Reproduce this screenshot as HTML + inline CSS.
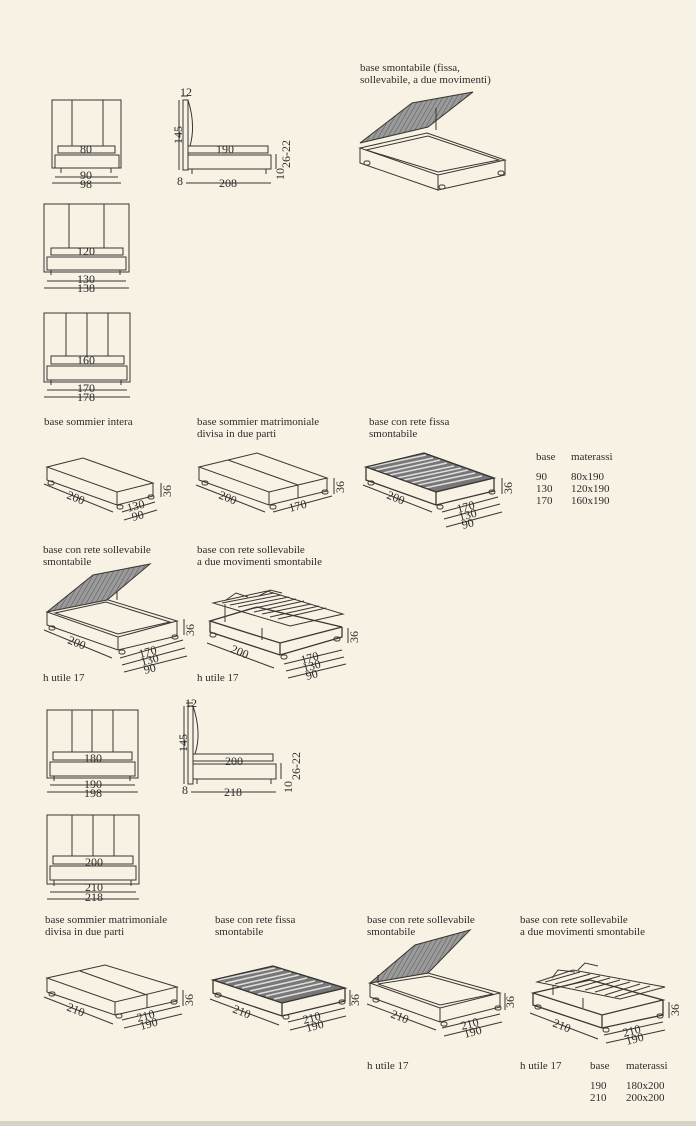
<!DOCTYPE html>
<html><head><meta charset="utf-8"><style>
html,body{margin:0;padding:0;background:#f7f2e4;}
svg{display:block}
text{font-family:"Liberation Serif",serif;fill:#2e2a2a;font-size:11px}
.d{font-size:12px}
</style></head><body>
<svg width="696" height="1126" viewBox="0 0 696 1126" xmlns="http://www.w3.org/2000/svg">
<defs>
<pattern id="hat" width="4" height="4" patternUnits="userSpaceOnUse" patternTransform="rotate(30)">
<rect width="4" height="4" fill="#9a9a9a"/><line x1="0" y1="0" x2="0" y2="4" stroke="#555" stroke-width="1"/>
</pattern>
</defs>
<g fill="none" stroke="#3a3532" stroke-width="1">
<!-- front view 1 -->
<rect x="52" y="100" width="69" height="68"/><line x1="72" y1="100" x2="72" y2="146"/><line x1="103" y1="100" x2="103" y2="146"/>
<rect x="58" y="146" width="57" height="7"/><rect x="55" y="155" width="64" height="13"/>
<line x1="61" y1="168" x2="61" y2="173"/><line x1="111" y1="168" x2="111" y2="173"/>
<line x1="55" y1="177" x2="118" y2="177"/><line x1="52" y1="183" x2="121" y2="183"/>
<!-- side view 1 -->
<rect x="183" y="100" width="5" height="70"/><path d="M188,100 Q196,125 190,146"/>
<line x1="179" y1="100" x2="179" y2="170"/><line x1="181" y1="96" x2="188" y2="96"/>
<rect x="188" y="146" width="80" height="7"/><rect x="188" y="155" width="83" height="14"/>
<line x1="192" y1="169" x2="192" y2="174"/><line x1="266" y1="169" x2="266" y2="174"/>
<line x1="186" y1="183" x2="271" y2="183"/><line x1="276" y1="154" x2="276" y2="169"/>
<!-- front view 2 -->
<rect x="44" y="204" width="85" height="68"/><line x1="69" y1="204" x2="69" y2="248"/><line x1="104" y1="204" x2="104" y2="248"/>
<rect x="51" y="248" width="72" height="7"/><rect x="47" y="257" width="79" height="13"/>
<line x1="51" y1="270" x2="51" y2="275"/><line x1="120" y1="270" x2="120" y2="275"/>
<line x1="47" y1="281" x2="126" y2="281"/><line x1="44" y1="288" x2="129" y2="288"/>
<!-- front view 3 -->
<rect x="44" y="313" width="86" height="69"/><line x1="66" y1="313" x2="66" y2="356"/><line x1="87" y1="313" x2="87" y2="356"/><line x1="108" y1="313" x2="108" y2="356"/>
<rect x="51" y="356" width="73" height="8"/><rect x="47" y="366" width="80" height="14"/>
<line x1="51" y1="380" x2="51" y2="385"/><line x1="121" y1="380" x2="121" y2="385"/>
<line x1="47" y1="390" x2="127" y2="390"/><line x1="44" y1="397" x2="130" y2="397"/>
<!-- top right iso -->
<path d="M360,148 L427,133 L505,160 L438,175 Z"/><path d="M360,148 L360,163 L438,190 L438,175 M438,190 L505,175 L505,160"/>
<path d="M366,150 L428,136 L499,160 L438,172 Z"/>
<path d="M360,143 L412,103 L473,92 L428,127 Z" fill="url(#hat)"/><line x1="436" y1="108" x2="436" y2="130"/>
<rect x="364" y="161" width="6" height="4" rx="2"/><rect x="439" y="185" width="6" height="4" rx="2"/><rect x="498" y="171" width="6" height="4" rx="2"/>
<!-- box1 -->
<path d="M47,467 L83,458 L153,483 L117,492 Z M47,467 L47,480 L117,505 L153,496 L153,483 M117,492 L117,505"/>
<rect x="48" y="481" width="6" height="4" rx="2"/><rect x="117" y="505" width="6" height="4" rx="2"/><rect x="148" y="495" width="6" height="4" rx="2"/>
<line x1="44" y1="484" x2="113" y2="512"/><line x1="122" y1="512" x2="155" y2="502"/><line x1="124" y1="520" x2="157" y2="510"/><line x1="161" y1="483" x2="161" y2="497"/>
<!-- box2 -->
<path d="M199,467 L257,453 L327,478 L269,492 Z M199,467 L199,480 L269,505 L327,491 L327,478 M269,492 L269,505 M228,460 L298,485 L298,498"/>
<rect x="202" y="481" width="6" height="4" rx="2"/><rect x="270" y="505" width="6" height="4" rx="2"/><rect x="322" y="490" width="6" height="4" rx="2"/>
<line x1="196" y1="485" x2="265" y2="512"/><line x1="273" y1="512" x2="332" y2="496"/><line x1="334" y1="478" x2="334" y2="494"/>
<!-- box3 rete fissa -->
<path d="M366,467 L424,453 L494,478 L436,492 Z" fill="#777"/>
<path d="M369,467 L426,455 M376,470 L433,458 M383,473 L440,460 M390,475 L447,463 M397,478 L454,466 M404,480 L461,468 M411,483 L468,470 M418,485 L475,473 M425,488 L482,476" stroke="#ddd" stroke-width="1.6"/>
<path d="M366,467 L424,453 L494,478 L436,492 Z M366,467 L366,480 L436,505 L494,491 L494,478 M436,492 L436,505" stroke-width="1.3"/>
<rect x="368" y="481" width="6" height="4" rx="2"/><rect x="437" y="505" width="6" height="4" rx="2"/><rect x="489" y="490" width="6" height="4" rx="2"/>
<line x1="363" y1="485" x2="432" y2="512"/><line x1="442" y1="512" x2="498" y2="497"/><line x1="444" y1="519" x2="500" y2="504"/><line x1="446" y1="527" x2="502" y2="512"/><line x1="502" y1="478" x2="502" y2="494"/>
<!-- box4 sollevabile -->
<path d="M47,612 L105,599 L177,621 L118,637 Z M47,612 L47,625 L118,650 L177,636 L177,621 M118,637 L118,650"/>
<path d="M55,613 L106,602 L170,622 L118,634 Z"/>
<path d="M47,612 L93,575 L150,564 L107,600 Z" fill="url(#hat)"/><line x1="117" y1="592" x2="117" y2="600"/>
<rect x="49" y="626" width="6" height="4" rx="2"/><rect x="119" y="650" width="6" height="4" rx="2"/><rect x="172" y="635" width="6" height="4" rx="2"/>
<line x1="44" y1="630" x2="112" y2="658"/><line x1="120" y1="658" x2="183" y2="640"/><line x1="122" y1="665" x2="185" y2="648"/><line x1="124" y1="672" x2="187" y2="656"/><line x1="184" y1="619" x2="184" y2="635"/>
<!-- box5 due movimenti -->
<path d="M210,621 L257,607 L342,627 L280,643 Z M210,621 L210,632 L280,655 L342,637 L342,627 M280,643 L280,655" stroke-width="1.3"/>
<path d="M213,603 L267,591 L343,614 L290,626 Z"/>
<path d="M222,603 L274,593 M230,605 L281,595 M238,607 L289,597 M246,610 L296,599 M254,612 L304,601 M262,614 L311,604 M270,617 L319,606 M278,619 L326,608"/>
<path d="M226,600 L236,593 L248,597 M259,596 L270,590 L282,593"/>
<line x1="225" y1="604" x2="225" y2="622"/><line x1="262" y1="628" x2="262" y2="640"/>
<rect x="210" y="633" width="6" height="4" rx="2"/><rect x="281" y="655" width="6" height="4" rx="2"/><rect x="334" y="637" width="6" height="4" rx="2"/>
<line x1="207" y1="643" x2="274" y2="668"/><line x1="284" y1="664" x2="342" y2="650"/><line x1="286" y1="671" x2="344" y2="657"/><line x1="288" y1="678" x2="346" y2="664"/><line x1="348" y1="628" x2="348" y2="643"/>
<!-- front view 180 -->
<rect x="47" y="710" width="91" height="68"/><line x1="72" y1="710" x2="72" y2="752"/><line x1="92" y1="710" x2="92" y2="752"/><line x1="113" y1="710" x2="113" y2="752"/>
<rect x="53" y="752" width="79" height="8"/><rect x="50" y="762" width="85" height="14"/>
<line x1="54" y1="776" x2="54" y2="781"/><line x1="130" y1="776" x2="130" y2="781"/>
<line x1="50" y1="785" x2="135" y2="785"/><line x1="47" y1="792" x2="138" y2="792"/>
<!-- side view 2 -->
<rect x="188" y="706" width="5" height="78"/><path d="M193,706 Q202,733 195,754"/>
<line x1="184" y1="706" x2="184" y2="784"/><line x1="186" y1="703" x2="193" y2="703"/>
<rect x="193" y="754" width="80" height="7"/><rect x="193" y="764" width="83" height="15"/>
<line x1="197" y1="779" x2="197" y2="784"/><line x1="271" y1="779" x2="271" y2="784"/>
<line x1="191" y1="792" x2="276" y2="792"/><line x1="281" y1="763" x2="281" y2="779"/>
<!-- front view 200 -->
<rect x="47" y="815" width="92" height="69"/><line x1="72" y1="815" x2="72" y2="856"/><line x1="93" y1="815" x2="93" y2="856"/><line x1="114" y1="815" x2="114" y2="856"/>
<rect x="53" y="856" width="80" height="8"/><rect x="50" y="866" width="86" height="14"/>
<line x1="54" y1="880" x2="54" y2="886"/><line x1="131" y1="880" x2="131" y2="886"/>
<line x1="50" y1="892" x2="136" y2="892"/><line x1="47" y1="899" x2="139" y2="899"/>
<!-- B6 -->
<path d="M47,978 L105,965 L177,987 L115,1002 Z M47,978 L47,992 L115,1015 L177,1001 L177,987 M115,1002 L115,1015 M80,971 L147,995 L147,1008"/>
<rect x="49" y="992" width="6" height="4" rx="2"/><rect x="116" y="1014" width="6" height="4" rx="2"/><rect x="171" y="1000" width="6" height="4" rx="2"/>
<line x1="44" y1="997" x2="113" y2="1024"/><line x1="122" y1="1020" x2="180" y2="1006"/><line x1="124" y1="1028" x2="182" y2="1014"/><line x1="183" y1="990" x2="183" y2="1006"/>
<!-- B7 -->
<path d="M213,980 L273,966 L345,988 L282,1003 Z" fill="#777"/>
<path d="M218,980 L275,968 M226,983 L283,970 M234,986 L291,973 M242,988 L299,975 M250,991 L307,978 M258,994 L315,981 M266,996 L323,983 M274,999 L331,986" stroke="#ddd" stroke-width="1.6"/>
<path d="M213,980 L273,966 L345,988 L282,1003 Z M213,980 L213,993 L282,1016 L345,1001 L345,988 M282,1003 L282,1016" stroke-width="1.3"/>
<rect x="215" y="993" width="6" height="4" rx="2"/><rect x="283" y="1015" width="6" height="4" rx="2"/><rect x="339" y="1000" width="6" height="4" rx="2"/>
<line x1="210" y1="999" x2="279" y2="1025"/><line x1="288" y1="1022" x2="345" y2="1008"/><line x1="290" y1="1030" x2="346" y2="1016"/><line x1="350" y1="990" x2="350" y2="1006"/>
<!-- B8 -->
<path d="M370,983 L428,973 L500,993 L440,1008 Z M370,983 L370,997 L440,1022 L500,1007 L500,993 M440,1008 L440,1022"/>
<path d="M378,984 L429,976 L493,994 L440,1005 Z"/>
<path d="M370,983 L415,945 L470,930 L428,973 Z" fill="url(#hat)"/><line x1="378" y1="975" x2="378" y2="983"/>
<rect x="373" y="998" width="6" height="4" rx="2"/><rect x="441" y="1022" width="6" height="4" rx="2"/><rect x="495" y="1006" width="6" height="4" rx="2"/>
<line x1="367" y1="1004" x2="436" y2="1030"/><line x1="442" y1="1028" x2="500" y2="1014"/><line x1="444" y1="1036" x2="502" y2="1022"/><line x1="505" y1="993" x2="505" y2="1010"/>
<!-- B9 -->
<path d="M533,993 L590,980 L663,1000 L602,1015 Z M533,993 L533,1005 L602,1028 L663,1015 L663,1000 M602,1015 L602,1028" stroke-width="1.3"/>
<path d="M537,982 L573,970 L665,987 L620,999 Z"/>
<path d="M545,982 L580,972 M555,984 L590,974 M565,986 L600,976 M575,988 L610,978 M585,990 L620,980 M595,992 L630,982 M605,995 L640,984 M615,997 L650,986"/>
<path d="M552,978 L558,970 L575,972 M578,970 L585,963 L598,966"/>
<line x1="553" y1="985" x2="553" y2="995"/><line x1="583" y1="998" x2="583" y2="1008"/>
<rect x="535" y="1005" width="6" height="4" rx="2"/><rect x="603" y="1028" width="6" height="4" rx="2"/><rect x="657" y="1014" width="6" height="4" rx="2"/>
<line x1="530" y1="1013" x2="598" y2="1039"/><line x1="604" y1="1035" x2="663" y2="1022"/><line x1="606" y1="1043" x2="665" y2="1030"/><line x1="669" y1="1002" x2="669" y2="1018"/>
</g>
<!-- text -->
<text x="360" y="71">base smontabile (fissa,</text>
<text x="360" y="83">sollevabile, a due movimenti)</text>
<text class="d" x="80" y="153">80</text><text class="d" x="80" y="179">90</text><text class="d" x="80" y="188">98</text>
<text class="d" x="180" y="96">12</text><text class="d" transform="translate(182,144) rotate(-90)">145</text>
<text class="d" x="216" y="153">190</text><text class="d" x="177" y="185">8</text><text class="d" x="219" y="187">208</text>
<text class="d" transform="translate(290,168) rotate(-90)">26-22</text><text class="d" transform="translate(284,180) rotate(-90)">10</text>
<text class="d" x="77" y="255">120</text><text class="d" x="77" y="283">130</text><text class="d" x="77" y="292">138</text>
<text class="d" x="77" y="364">160</text><text class="d" x="77" y="392">170</text><text class="d" x="77" y="401">178</text>
<text x="44" y="425">base sommier intera</text>
<text x="197" y="425">base sommier matrimoniale</text><text x="197" y="437">divisa in due parti</text>
<text x="369" y="425">base con rete fissa</text><text x="369" y="437">smontabile</text>
<text x="536" y="460">base</text><text x="571" y="460">materassi</text>
<text x="536" y="480">90</text><text x="571" y="480">80x190</text>
<text x="536" y="492">130</text><text x="571" y="492">120x190</text>
<text x="536" y="504">170</text><text x="571" y="504">160x190</text>
<text class="d" transform="translate(66,498) rotate(22)">200</text>
<text class="d" transform="translate(128,512) rotate(-15)">130</text><text class="d" transform="translate(133,521) rotate(-15)">90</text>
<text class="d" transform="translate(171,497) rotate(-90)">36</text>
<text class="d" transform="translate(218,498) rotate(22)">200</text><text class="d" transform="translate(290,512) rotate(-15)">170</text>
<text class="d" transform="translate(344,493) rotate(-90)">36</text>
<text class="d" transform="translate(386,498) rotate(22)">200</text>
<text class="d" transform="translate(458,513) rotate(-15)">170</text><text class="d" transform="translate(460,521) rotate(-15)">130</text><text class="d" transform="translate(463,529) rotate(-15)">90</text>
<text class="d" transform="translate(512,494) rotate(-90)">36</text>
<text x="43" y="553">base con rete sollevabile</text><text x="43" y="565">smontabile</text>
<text x="197" y="553">base con rete sollevabile</text><text x="197" y="565">a due movimenti smontabile</text>
<text class="d" transform="translate(67,643) rotate(22)">200</text>
<text class="d" transform="translate(140,658) rotate(-15)">170</text><text class="d" transform="translate(142,666) rotate(-15)">130</text><text class="d" transform="translate(145,674) rotate(-15)">90</text>
<text class="d" transform="translate(194,636) rotate(-90)">36</text>
<text class="d" transform="translate(230,652) rotate(22)">200</text>
<text class="d" transform="translate(302,664) rotate(-15)">170</text><text class="d" transform="translate(304,672) rotate(-15)">130</text><text class="d" transform="translate(307,680) rotate(-15)">90</text>
<text class="d" transform="translate(358,643) rotate(-90)">36</text>
<text x="43" y="681">h utile 17</text><text x="197" y="681">h utile 17</text>
<text class="d" x="84" y="762">180</text><text class="d" x="84" y="788">190</text><text class="d" x="84" y="797">198</text>
<text class="d" x="185" y="707">12</text><text class="d" transform="translate(187,752) rotate(-90)">145</text>
<text class="d" x="225" y="765">200</text><text class="d" x="182" y="794">8</text><text class="d" x="224" y="796">218</text>
<text class="d" transform="translate(300,780) rotate(-90)">26-22</text><text class="d" transform="translate(292,793) rotate(-90)">10</text>
<text class="d" x="85" y="866">200</text><text class="d" x="85" y="891">210</text><text class="d" x="85" y="901">218</text>
<text x="45" y="923">base sommier matrimoniale</text><text x="45" y="935">divisa in due parti</text>
<text x="215" y="923">base con rete fissa</text><text x="215" y="935">smontabile</text>
<text x="367" y="923">base con rete sollevabile</text><text x="367" y="935">smontabile</text>
<text x="520" y="923">base con rete sollevabile</text><text x="520" y="935">a due movimenti smontabile</text>
<text class="d" transform="translate(66,1010) rotate(22)">210</text>
<text class="d" transform="translate(138,1022) rotate(-15)">210</text><text class="d" transform="translate(141,1030) rotate(-15)">190</text>
<text class="d" transform="translate(193,1006) rotate(-90)">36</text>
<text class="d" transform="translate(232,1012) rotate(22)">210</text>
<text class="d" transform="translate(304,1024) rotate(-15)">210</text><text class="d" transform="translate(307,1032) rotate(-15)">190</text>
<text class="d" transform="translate(359,1006) rotate(-90)">36</text>
<text class="d" transform="translate(390,1017) rotate(22)">210</text>
<text class="d" transform="translate(462,1030) rotate(-15)">210</text><text class="d" transform="translate(465,1038) rotate(-15)">190</text>
<text class="d" transform="translate(514,1008) rotate(-90)">36</text>
<text class="d" transform="translate(552,1026) rotate(22)">210</text>
<text class="d" transform="translate(624,1037) rotate(-15)">210</text><text class="d" transform="translate(627,1045) rotate(-15)">190</text>
<text class="d" transform="translate(679,1016) rotate(-90)">36</text>
<text x="367" y="1069">h utile 17</text><text x="520" y="1069">h utile 17</text>
<text x="590" y="1069">base</text><text x="626" y="1069">materassi</text>
<text x="590" y="1089">190</text><text x="626" y="1089">180x200</text>
<text x="590" y="1101">210</text><text x="626" y="1101">200x200</text>
<rect x="0" y="1121" width="696" height="5" fill="#d8d2c2"/>
</svg>
</body></html>
